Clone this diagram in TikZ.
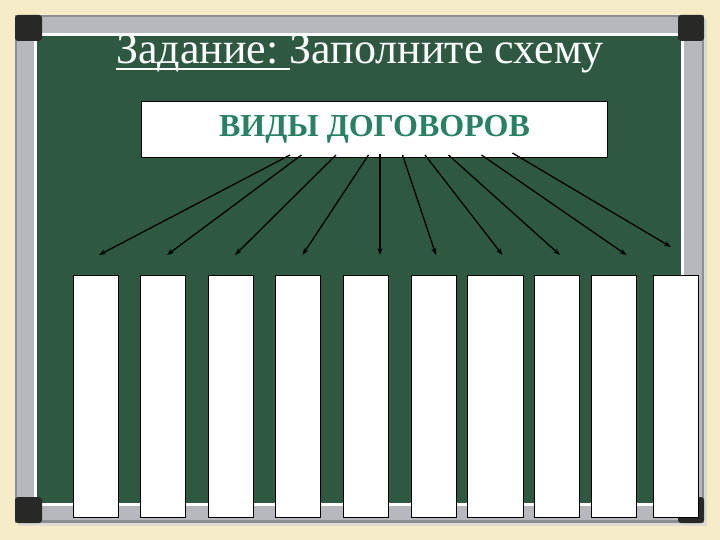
\documentclass[tikz,border=0pt]{standalone}
\usepackage{fontspec}
\setmainfont{Liberation Serif}
\usetikzlibrary{arrows.meta}
\definecolor{cream}{RGB}{246,236,200}
\definecolor{board}{RGB}{46,89,64}
\definecolor{framegray}{RGB}{182,184,190}
\definecolor{framedark}{RGB}{140,142,148}
\definecolor{cornerdark}{RGB}{40,40,38}
\definecolor{titlegreen}{RGB}{40,130,98}
\tikzset{
  blank/.style={draw=black, line width=1pt, fill=white, minimum width=45pt, minimum height=242pt, anchor=north west, inner sep=0pt},
  arr/.style={draw=black, line width=1.3pt, -{Stealth[length=7pt,width=5pt]}},
  titletext/.style={text=white, font=\fontsize{44}{44}\selectfont, inner sep=0pt, anchor=base west}
}
\begin{document}
\begin{tikzpicture}[x=1pt,y=-1pt]
\useasboundingbox (0,0) rectangle (720,540);
% background
\fill[cream] (0,0) rectangle (720,540);
% frame shadow
\fill[cream!70!black!40] (18,19) rectangle (707,526);
% frame
\fill[framedark] (15,15) rectangle (704,523);
\fill[framegray] (17,17) rectangle (702,520);
% white inner line
\fill[white] (34,33) rectangle (684,506);
% board
\fill[board] (37,36) rectangle (681,503);
% corners
\fill[cornerdark, rounded corners=3pt] (15,15) rectangle (42,41);
\fill[cornerdark, rounded corners=3pt] (678,15) rectangle (704,41);
\fill[cornerdark, rounded corners=3pt] (15,497) rectangle (42,523);
\fill[cornerdark, rounded corners=3pt] (678,497) rectangle (704,523);
% title
\node[titletext] (t1) at (116,64) {Задание:\ \mbox{}};
\node[titletext] (t2) at (t1.base east) {Заполните схему};
\draw[white, line width=2pt] ([yshift=-5pt]t1.base west) -- ([yshift=-5pt]t1.base east);
% main box
\node[draw=black, line width=1pt, fill=white, minimum width=466pt, minimum height=56pt, inner sep=0pt,
      text=titlegreen, font=\bfseries\fontsize{32}{32}\selectfont] (main) at (374.5,129.5) {ВИДЫ ДОГОВОРОВ};
% blank boxes
\node[blank] (b1) at (73,275) {};
\node[blank] (b2) at (140,275) {};
\node[blank] (b3) at (208,275) {};
\node[blank] (b4) at (275,275) {};
\node[blank] (b5) at (343,275) {};
\node[blank] (b6) at (410.5,275) {};
\node[blank, minimum width=56pt] (b7) at (467,275) {};
\node[blank] (b8) at (534,275) {};
\node[blank] (b9) at (591,275) {};
\node[blank] (b10) at (652.5,275) {};
% arrow ends
\coordinate (e1) at (99,255);
\coordinate (e2) at (167,255);
\coordinate (e3) at (235,255);
\coordinate (e4) at (302.5,255);
\coordinate (e5) at (380,255);
\coordinate (e6) at (436,255);
\coordinate (e7) at (502.5,255);
\coordinate (e8) at (560,255);
\coordinate (e9) at (626.5,255);
\coordinate (e10) at (671,247);
% arrows
\draw[arr] ([xshift=-84.5pt,yshift=3pt]main.south) -- (e1);
\draw[arr] ([xshift=-73pt,yshift=3pt]main.south) -- (e2);
\draw[arr] ([xshift=-38.5pt,yshift=3pt]main.south) -- (e3);
\draw[arr] ([xshift=-6pt,yshift=3pt]main.south) -- (e4);
\draw[arr] ([xshift=5.5pt,yshift=4pt]main.south) -- (e5);
\draw[arr] ([xshift=28pt,yshift=3pt]main.south) -- (e6);
\draw[arr] ([xshift=50.5pt,yshift=3pt]main.south) -- (e7);
\draw[arr] ([xshift=74pt,yshift=3pt]main.south) -- (e8);
\draw[arr] ([xshift=107pt,yshift=3pt]main.south) -- (e9);
\draw[arr] ([xshift=138pt,yshift=5pt]main.south) -- (e10);
\end{tikzpicture}
\end{document}
